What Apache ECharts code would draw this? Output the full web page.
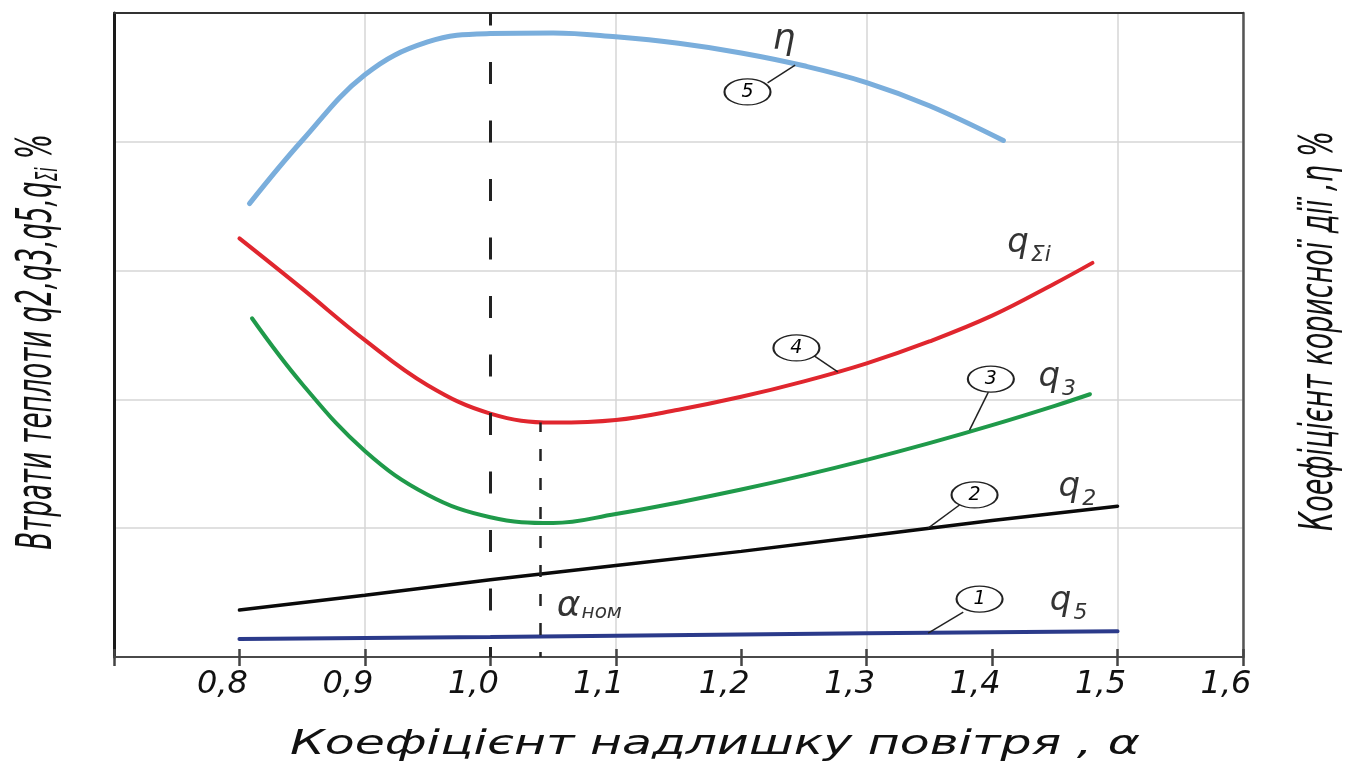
<!DOCTYPE html>
<html><head><meta charset="utf-8">
<script src="https://cdn.jsdelivr.net/npm/echarts@6/dist/echarts.min.js"></script>
<style>html,body{margin:0;padding:0;background:#fff}#c{width:1348px;height:761px}</style>
</head><body><div id="c"></div>
<script>
// ---- data ----
const xTickLabels = ['0,8','0,9','1,0','1,1','1,2','1,3','1,4','1,5','1,6'];

const etaAlpha = [0.808,0.85,0.90,0.95,1.00,1.05,1.10,1.15,1.20,1.25,1.30,1.35,1.409];
const etaVals  = [3.52,4.01,4.52,4.775,4.84,4.845,4.815,4.765,4.69,4.59,4.46,4.28,4.01];

const qSumAlpha = [0.80,0.85,0.90,0.95,1.00,1.05,1.10,1.15,1.20,1.25,1.30,1.35,1.40,1.45,1.48];
const qSumVals  = [3.25,2.86,2.46,2.11,1.89,1.82,1.84,1.92,2.02,2.14,2.28,2.45,2.65,2.90,3.06];

const q3Alpha = [0.81,0.85,0.90,0.95,1.00,1.05,1.10,1.15,1.20,1.25,1.30,1.35,1.40,1.45,1.478];
const q3Vals  = [2.63,2.12,1.60,1.26,1.085,1.04,1.11,1.20,1.30,1.41,1.53,1.66,1.80,1.95,2.04];

const q2Alpha = [0.8,0.9,1.0,1.1,1.2,1.3,1.4,1.5];
const q2Vals  = [0.365,0.48,0.60,0.71,0.82,0.94,1.06,1.17];

const q5Alpha = [0.8,1.0,1.3,1.5];
const q5Vals  = [0.14,0.155,0.185,0.20];

const alphaRef = 1.0;       // long dashed line
const alphaNom = 1.04;      // short dashed line
const alphaNomTop = 1.82;   // minimum of q_sum

const calloutNums  = ['1','2','3','4','5'];
const calloutAlpha = [1.390,1.386,1.399,1.244,1.205];
const calloutVals  = [0.45,1.258,2.158,2.40,4.387];
const leaderFrom = [[1.377,0.349],[1.374,1.18],[1.397,2.057],[1.257,2.345],[1.221,4.457]];
const leaderTo   = [[1.349,0.186],[1.349,1.0],[1.382,1.762],[1.277,2.213],[1.243,4.596]];

const curveLabelText  = ['{e|η}','{q|q}{s|Σi}','{q|q}{s|3}','{q|q}{s|2}','{q|q}{s|5}','{a|α}{n|ном}'];
const curveLabelAlpha = [1.225,1.412,1.437,1.453,1.446,1.053];
const curveLabelVals  = [4.79,3.21,2.17,1.32,0.435,0.39];

const titleX = 'Коефіцієнт надлишку повітря , α';
const titleYLeft = 'Втрати теплоти q2,q3,q5,qΣi %';
const titleYRight = 'Коефіцієнт корисної дії ,η %';

// ---- helpers ----
const zip = (a, b) => a.map((x, i) => [x, b[i]]);
const FF = 'DejaVu Sans';
function measure(text, size) {
  const c = document.createElement('canvas').getContext('2d');
  c.font = 'italic ' + size + 'px "' + FF + '"';
  return c.measureText(text).width;
}
const tickFormatter = v => {
  const i = Math.round((v - 0.8) * 10);
  return (i >= 0 && i < xTickLabels.length) ? xTickLabels[i] : '';
};

const chart = echarts.init(document.getElementById('c'), null, {renderer: 'canvas'});
const gridCol = '#d6d6d6';
const lineSeries = (data, color, width, smooth) => ({
  type: 'line', data, smooth: smooth ? 0.4 : false,
  showSymbol: false, symbol: 'none', silent: true,
  lineStyle: {color, width, cap: 'round'}, z: 3
});

const bottomSize = 33, leftSize = 50, rightSize = 46;
const sBottom = 850 / measure(titleX, bottomSize);
const sLeft = 425 / measure(titleYLeft, leftSize);
const sRight = 400 / measure(titleYRight, rightSize);
const txt = {fontStyle: 'italic', fontFamily: FF, color: '#000', fontWeight: 'normal', textBorderWidth: 0};

chart.setOption({
  animation: false,
  backgroundColor: '#fff',
  grid: {left: 114, right: 105, top: 13, bottom: 104},
  xAxis: [
    {type: 'value', min: 0.7, max: 1.6, interval: 0.1, position: 'bottom',
     axisLine: {show: true, onZero: false, lineStyle: {color: '#4a4a4a', width: 2}},
     axisTick: {show: true, length: 9, lineStyle: {color: '#444', width: 2.5}},
     axisLabel: {formatter: tickFormatter, margin: 12, fontSize: 32, fontStyle: 'italic',
                 fontFamily: FF, color: '#111', padding: [0, 34, 0, 0]},
     splitLine: {show: false}},
    {type: 'value', min: 0.7, max: 1.6, interval: 0.1, position: 'bottom',
     axisLine: {show: false}, axisLabel: {show: false}, splitLine: {show: false},
     axisTick: {show: true, inside: true, length: 8, lineStyle: {color: '#444', width: 2.5}}},
    {type: 'value', min: 0.7, max: 1.6, interval: 0.2, position: 'top',
     axisLine: {show: true, onZero: false, lineStyle: {color: '#333', width: 2}},
     axisTick: {show: false}, axisLabel: {show: false},
     splitLine: {show: true, lineStyle: {color: gridCol, width: 1.5}}}
  ],
  yAxis: [
    {type: 'value', min: 0, max: 5, interval: 1, position: 'left',
     axisLine: {show: true, onZero: false, lineStyle: {color: '#1a1a1a', width: 3}},
     axisTick: {show: false}, axisLabel: {show: false},
     splitLine: {show: true, lineStyle: {color: gridCol, width: 1.5}}},
    {type: 'value', min: 0, max: 5, interval: 1, position: 'right',
     axisLine: {show: true, onZero: false, lineStyle: {color: '#555', width: 2.5}},
     axisTick: {show: false}, axisLabel: {show: false}, splitLine: {show: false}}
  ],
  series: [
    lineSeries(zip(etaAlpha, etaVals), '#7aaedc', 5, true),
    lineSeries(zip(qSumAlpha, qSumVals), '#e0262e', 4, true),
    lineSeries(zip(q3Alpha, q3Vals), '#1f9a4a', 4, true),
    lineSeries(zip(q2Alpha, q2Vals), '#0a0a0a', 3.5, false),
    lineSeries(zip(q5Alpha, q5Vals), '#2b3a8a', 4, false),
    {type: 'line', data: [], silent: true,
     markLine: {symbol: 'none', silent: true, label: {show: false}, animation: false,
       data: [
         [{coord: [alphaRef, 0], lineStyle: {color: '#222', width: 3, type: [22, 36.5], dashOffset: 12}},
          {coord: [alphaRef, 5]}],
         [{coord: [alphaNom, 0], lineStyle: {color: '#222', width: 2.5, type: [12, 17], dashOffset: 7}},
          {coord: [alphaNom, alphaNomTop]}]
       ]}},
    {type: 'lines', coordinateSystem: 'cartesian2d', silent: true, z: 4,
     lineStyle: {color: '#222', width: 1.5, opacity: 1},
     data: leaderFrom.map((f, i) => ({coords: [f, leaderTo[i]]}))},
    {type: 'scatter', silent: true, z: 5, symbol: 'circle', symbolSize: [46, 26],
     itemStyle: {color: '#fff', borderColor: '#222', borderWidth: 1.6, opacity: 1},
     label: Object.assign({show: true, position: 'inside', formatter: '{b}', fontSize: 19}, txt),
     data: calloutNums.map((n, i) => ({name: n, value: [calloutAlpha[i], calloutVals[i]]}))},
    {type: 'scatter', silent: true, z: 6, symbolSize: 0,
     label: Object.assign({show: true, position: 'right', distance: 0,
       formatter: p => curveLabelText[p.dataIndex],
       rich: {
         e: Object.assign({fontSize: 36}, txt),
         q: Object.assign({fontSize: 34}, txt),
         s: Object.assign({fontSize: 22, padding: [24, 0, 0, 2]}, txt),
         a: Object.assign({fontSize: 36}, txt),
         n: Object.assign({fontSize: 20, padding: [12, 0, 0, 1]}, txt)
       }}, txt),
     data: zip(curveLabelAlpha, curveLabelVals)}
  ],
  graphic: [
    {type: 'text', x: 715, y: 745, scaleX: sBottom, silent: true,
     style: {text: titleX, fontSize: bottomSize, fontStyle: 'italic', fontFamily: FF,
             fill: '#111', align: 'center', verticalAlign: 'middle'}},
    {type: 'text', x: 38, y: 342, rotation: Math.PI / 2, scaleX: sLeft, silent: true,
     style: {text: '{t|Втрати теплоти q2,q3,q5,q}{s|Σi}{t| %}', align: 'center', verticalAlign: 'middle',
             rich: {t: {fontSize: leftSize, fontStyle: 'italic', fontFamily: FF, fill: '#111'},
                    s: {fontSize: 30, fontStyle: 'italic', fontFamily: FF, fill: '#111', padding: [22, 0, 0, 0]}}}},
    {type: 'text', x: 1320, y: 331, rotation: Math.PI / 2, scaleX: sRight, silent: true,
     style: {text: titleYRight, fontSize: rightSize, fontStyle: 'italic', fontFamily: FF,
             fill: '#111', align: 'center', verticalAlign: 'middle'}}
  ]
});
</script></body></html>
